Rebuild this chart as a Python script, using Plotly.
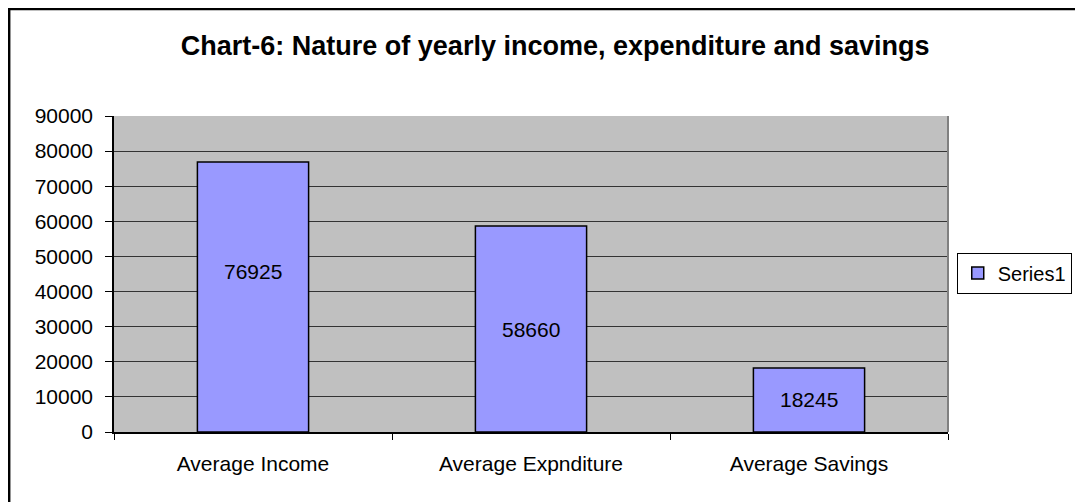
import plotly.graph_objects as go

# ━━━ DATA ━━━━━━━━━━━━━━━━━━━━━━━━━━━━━━━━━━━━━━━━━━━━━━━━━━━
categories = ["Average Income", "Average Expnditure", "Average Savings"]
values = [76925, 58660, 18245]
y_ticks = [0, 10000, 20000, 30000, 40000, 50000, 60000, 70000, 80000, 90000]

FONT = "Liberation Sans, Arial, sans-serif"
BAR_FILL = "#9999FF"

# page body has an 8px margin, so the figure is drawn 8px smaller
fig = go.Figure(go.Bar(
    x=categories,
    y=values,
    name="Series1",
    marker=dict(color=BAR_FILL, line=dict(color="black", width=1.5)),
    width=0.4,
))

# value labels sit in the middle of each bar (first one nudged up, as in the source)
label_shift = [25, 0, 0]
for cat, val, dy in zip(categories, values, label_shift):
    fig.add_annotation(
        x=cat, y=val / 2, text=str(val), showarrow=False, yshift=dy,
        font=dict(family=FONT, size=21, color="black"),
    )

# outer chart border (only top/left fall inside the picture)
fig.add_shape(
    type="rect", xref="paper", yref="paper",
    x0=-0.1257, x1=1.2, y0=-0.3, y1=1.339,
    line=dict(color="black", width=2.5), layer="above",
)
# plot area frame on the right
fig.add_shape(
    type="line", xref="paper", yref="paper",
    x0=1, x1=1, y0=0, y1=1,
    line=dict(color="#808080", width=2),
)

fig.update_layout(
    width=1075,
    height=494,
    margin=dict(l=106, r=134, t=108, b=70),
    paper_bgcolor="white",
    plot_bgcolor="#C0C0C0",
    font=dict(family=FONT, size=21, color="black"),
    title=dict(
        text="<b>Chart-6: Nature of yearly income, expenditure and savings</b>",
        x=0.509, xanchor="center", y=0.925, yanchor="middle",
        font=dict(family=FONT, size=27, color="black"),
    ),
    showlegend=True,
    legend=dict(
        x=1.147, xanchor="right", y=0.503, yanchor="middle",
        bgcolor="white", bordercolor="black", borderwidth=1,
        font=dict(family=FONT, size=20),
        itemwidth=30,
    ),
    xaxis=dict(
        showline=True, linecolor="black", linewidth=1.5,
        ticks="outside", tickson="boundaries", ticklen=6, tickcolor="black",
        showgrid=False, range=[-0.5, 2.5],
        tickfont=dict(family=FONT, size=21),
        ticklabelstandoff=12,
    ),
    yaxis=dict(
        range=[0, 90000], tickvals=y_ticks, tickformat="d",
        showline=True, linecolor="black", linewidth=1.5,
        ticks="outside", ticklen=7, tickcolor="black",
        showgrid=True, gridcolor="#333333", gridwidth=1,
        zeroline=False,
        tickfont=dict(family=FONT, size=21),
        ticklabelstandoff=8,
    ),
)

fig.write_html("out.html")
